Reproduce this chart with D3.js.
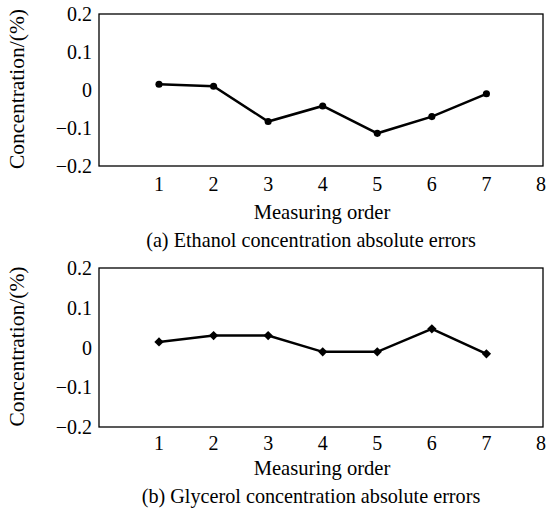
<!DOCTYPE html>
<html>
<head>
<meta charset="utf-8">
<script src="https://cdn.jsdelivr.net/npm/d3@7"></script>
<style>
    body { margin: 0; background: #fff; }
    svg text { font-family: "Liberation Serif", "Times New Roman", serif; fill: #000; }
</style>
</head>
<body>
<svg id="chart" width="550" height="510"></svg>
<script>
// measuring order (x) and absolute errors (y)
const order = [1, 2, 3, 4, 5, 6, 7];
const ethanolErr = [0.015, 0.01, -0.083, -0.042, -0.114, -0.07, -0.01];
const glycerolErr = [0.014, 0.03, 0.03, -0.011, -0.011, 0.047, -0.016];
const xTicks = [1, 2, 3, 4, 5, 6, 7, 8];
const yTicks = [0.2, 0.1, 0, -0.1, -0.2];
const captions = ["(a) Ethanol concentration absolute errors", "(b) Glycerol concentration absolute errors"];

const svg = d3.select("#chart");

let fmt = d => d === 0 ? "0" : d3.format(".1f")(d);

// lab = baselines of tick labels, axis title and caption
function drawPanel(values, top, bottom, caption, marker, lab) {
    let left = 99, right = 543;

    let x = d3.scaleLinear().domain([1, 8]).range([159, 541]);
    let y = d3.scaleLinear().domain([-0.2, 0.2]).range([bottom, top]);

    let g = svg.append("g");

    // frame
    g.append("rect")
        .attr("x", left)
        .attr("y", top)
        .attr("width", right - left)
        .attr("height", bottom - top)
        .attr("fill", "none")
        .attr("stroke", "#000")
        .attr("stroke-width", 1.3);

    // y tick labels
    g.selectAll("text.ytick")
        .data(yTicks)
        .enter().append("text")
        .attr("class", "ytick")
        .attr("x", left - 7)
        .attr("y", d => y(d) + 7)
        .attr("text-anchor", "end")
        .style("font-size", "20px")
        .text(fmt);

    // x tick labels
    g.selectAll("text.xtick")
        .data(xTicks)
        .enter().append("text")
        .attr("class", "xtick")
        .attr("x", d => x(d))
        .attr("y", lab[0])
        .attr("text-anchor", "middle")
        .style("font-size", "20px")
        .text(d => d);

    g.append("text")
        .attr("x", 322)
        .attr("y", lab[1])
        .attr("text-anchor", "middle")
        .style("font-size", "20.6px")
        .text("Measuring order");

    g.append("text")
        .attr("x", 311)
        .attr("y", lab[2])
        .attr("text-anchor", "middle")
        .style("font-size", "20.2px")
        .text(caption);

    g.append("text")
        .attr("transform", `translate(24,${(top + bottom) / 2 - 1}) rotate(-90)`)
        .attr("text-anchor", "middle")
        .style("font-size", "21.5px")
        .text("Concentration/(%)");

    let line = d3.line()
        .x((d, i) => x(order[i]))
        .y(d => y(d));

    g.append("path")
        .datum(values)
        .attr("d", line)
        .attr("fill", "none")
        .attr("stroke", "#000")
        .attr("stroke-width", 2.5);

    let sym = d3.symbol().type(marker).size(marker === d3.symbolCircle ? 40 : 55);
    g.selectAll("path.pt")
        .data(values)
        .enter().append("path")
        .attr("class", "pt")
        .attr("transform", (d, i) => `translate(${x(order[i])},${y(d)})`)
        .attr("d", sym)
        .attr("fill", "#000");
}

drawPanel(ethanolErr, 14, 166, captions[0], d3.symbolCircle, [191, 219, 247]);
drawPanel(glycerolErr, 268, 427, captions[1], d3.symbolDiamond2, [450, 475, 503]);
</script>
</body>
</html>
